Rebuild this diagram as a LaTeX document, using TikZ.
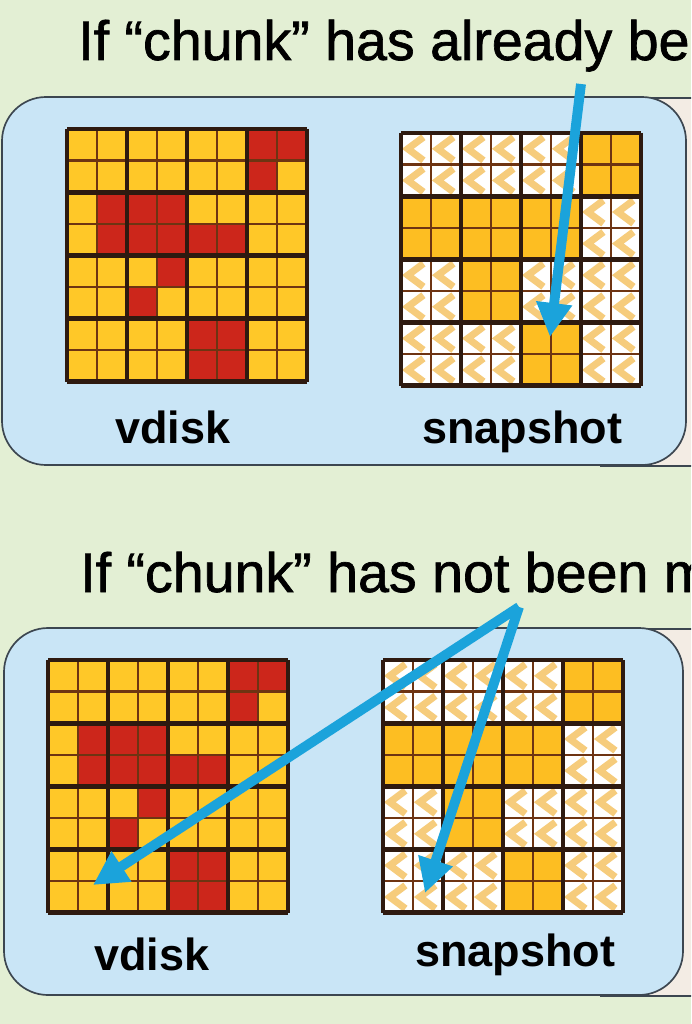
\documentclass[tikz,border=0pt]{standalone}
\usepackage{fontspec}
\setmainfont{Liberation Sans}
\newfontfamily\headfont[FakeBold=1.2]{Liberation Sans}
\usetikzlibrary{arrows.meta}
\usetikzlibrary{positioning}

\definecolor{pagegreen}{HTML}{E3EFD4}
\definecolor{panelblue}{HTML}{C9E5F6}
\definecolor{paneledge}{HTML}{3C4650}
\definecolor{backsheet}{HTML}{F3ECE4}
\definecolor{arrowblue}{HTML}{1BA3DB}
\definecolor{vyellow}{HTML}{FFC828}
\definecolor{vred}{HTML}{CC261B}
\definecolor{syellow}{HTML}{FDBE22}
\definecolor{chevcol}{HTML}{F6CC7C}
\definecolor{thingrid}{HTML}{6E3412}
\definecolor{thickgrid}{HTML}{2E1A10}

\tikzset{
  cellY/.style={fill=vyellow},
  cellR/.style={fill=vred},
  cellS/.style={fill=syellow},
  cellW/.style={fill=white, path picture={
    \draw[line width=5pt, chevcol]
      ([xshift=0.56cm,yshift=0.29cm]path picture bounding box.west) --
      ([xshift=0.17cm]path picture bounding box.west) --
      ([xshift=0.56cm,yshift=-0.29cm]path picture bounding box.west);}},
  cellline/.style={line width=1.8pt, draw=thingrid},
  blockline/.style={line width=3.4pt, draw=thickgrid, line cap=square},
  panel/.style={draw=paneledge, line width=1.2pt, fill=panelblue, rounded corners=1.1cm},
  heading/.style={anchor=base west, inner sep=0pt, font=\headfont\fontsize{39.5}{46}\selectfont},
  gridlabel/.style={anchor=base, inner sep=0pt, font=\fontsize{32}{38}\selectfont\bfseries},
  chunkarrow/.style={line width=7pt, draw=arrowblue, -{Triangle[length=0.85cm,width=0.85cm]}}
}

% 8x8 chunk maps, rows from the top
\newcommand{\vdiskrows}{{Y,Y,Y,Y,Y,Y,R,R},{Y,Y,Y,Y,Y,Y,R,Y},{Y,R,R,R,Y,Y,Y,Y},{Y,R,R,R,R,R,Y,Y},{Y,Y,Y,R,Y,Y,Y,Y},{Y,Y,R,Y,Y,Y,Y,Y},{Y,Y,Y,Y,R,R,Y,Y},{Y,Y,Y,Y,R,R,Y,Y}}
\newcommand{\snaprows}{{W,W,W,W,W,W,S,S},{W,W,W,W,W,W,S,S},{S,S,S,S,S,S,W,W},{S,S,S,S,S,S,W,W},{W,W,S,S,W,W,W,W},{W,W,S,S,W,W,W,W},{W,W,W,W,S,S,W,W},{W,W,W,W,S,S,W,W}}

\newcommand{\chunkgrid}[3]{%
  \foreach \cellrow [count=\ri] in #3 {
    \foreach \kind [count=\ci] in \cellrow {
      \path[cell\kind] ({#1+(\ci-1)*30},{#2+(\ri-1)*31.6}) rectangle ++(30,31.6);
    }
  }
  \foreach \i in {1,3,5,7} {
    \draw[cellline] ({#1+\i*30},#2) -- ++(0,252.8);
    \draw[cellline] (#1,{#2+\i*31.6}) -- ++(240,0);
  }
  \foreach \i in {0,2,4,6,8} {
    \draw[blockline] ({#1+\i*30},#2) -- ++(0,252.8);
    \draw[blockline] (#1,{#2+\i*31.6}) -- ++(240,0);
  }
}

\begin{document}
\begin{tikzpicture}[x=0.025cm, y=-0.025cm]
  \useasboundingbox (0,0) rectangle (691,1024);
  \clip (0,0) rectangle (691,1024);
  \fill[pagegreen] (0,0) rectangle (691,1024);

  % top case
  \node[heading] (titletop) at (78,60) {If “chunk” has already be};
  \fill[backsheet] (600,98) rectangle (700,466);
  \draw[paneledge, line width=0.8pt] (600,98) -- (700,98) (600,466) -- (700,466);
  \draw[panel] (2,97) rectangle (686,465);
  \chunkgrid{67}{129}{\vdiskrows}
  \chunkgrid{401}{133}{\snaprows}
  \node[gridlabel] (vdisktop) at (173,443) {vdisk};
  \node[gridlabel] (snaptop) at (522,443) {snapshot};

  % bottom case
  \node[heading] (titlebottom) at (80,592) {If “chunk” has not been m};
  \fill[backsheet] (600,629) rectangle (700,996);
  \draw[paneledge, line width=0.8pt] (600,629) -- (700,629) (600,996) -- (700,996);
  \draw[panel] (4,628) rectangle (683,995);
  \chunkgrid{48}{660}{\vdiskrows}
  \chunkgrid{383}{660}{\snaprows}
  \node[gridlabel] (vdiskbottom) at (152,970) {vdisk};
  \node[gridlabel] (snapbottom) at (515,966) {snapshot};

  % arrows
  \coordinate (toptail) at (581,84);
  \coordinate (topchunk) at (550,337);
  \coordinate (bottomtail) at (519,607);
  \coordinate (vchunk) at (93,885);
  \coordinate (schunk) at (425,893);
  \draw[chunkarrow] (toptail) -- (topchunk);
  \draw[chunkarrow] (bottomtail) -- (vchunk);
  \draw[chunkarrow] (bottomtail) -- (schunk);
\end{tikzpicture}
\end{document}
